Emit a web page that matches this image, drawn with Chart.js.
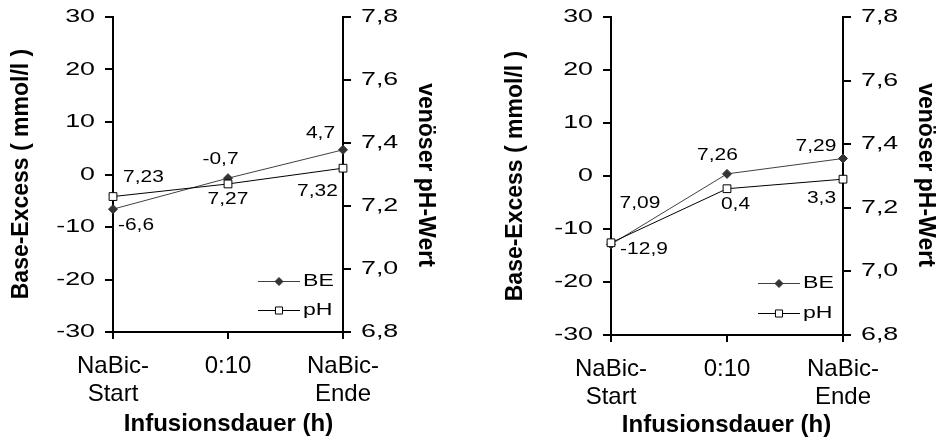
<!DOCTYPE html>
<html>
<head>
<meta charset="utf-8">
<script src="https://cdn.jsdelivr.net/npm/chart.js@4.4.1/dist/chart.umd.min.js"></script>
<style>
  html, body { margin: 0; padding: 0; background: #fff; }
  #wrap { position: relative; width: 936px; height: 440px; overflow: hidden; }
  canvas { position: absolute; top: 0; }
</style>
</head>
<body>
<div id="wrap">
  <canvas id="chartA" width="468" height="440" style="left:0;width:468px;height:440px"></canvas>
  <canvas id="chartB" width="468" height="440" style="left:468px;width:468px;height:440px"></canvas>
</div>
<script>
// Measurement times along the infusion
const categories = [['NaBic-', 'Start'], '0:10', ['NaBic-', 'Ende']];

// Patient A
const beA = [-6.6, -0.7, 4.7];
const phA = [7.23, 7.27, 7.32];

// Patient B
const beB = [-12.9, 0.4, 3.3];
const phB = [7.09, 7.26, 7.29];

// Axis ticks
const beTicks = [-30, -20, -10, 0, 10, 20, 30];
const phTicks = [6.8, 7.0, 7.2, 7.4, 7.6, 7.8];

const FONT = '"Liberation Sans", Arial, sans-serif';
const fmt = v => String(v).replace('.', ',');
const fmtPh = v => v.toFixed(1).replace('.', ',');

// Horizontally stretched text (the numeric labels use a wide face)
function wideText(ctx, text, x, y, sx, align) {
  ctx.save();
  ctx.translate(x, y);
  ctx.scale(sx, 1);
  ctx.textAlign = align;
  ctx.textBaseline = 'middle';
  ctx.fillText(text, 0, 0);
  ctx.restore();
}

// Each scale gets its own option objects
function gridOpts(len) {
  return { display: true, drawOnChartArea: false, drawTicks: true, tickLength: len,
           color: '#000', lineWidth: 2, tickColor: '#000', tickWidth: 2 };
}
function borderOpts() { return { display: true, color: '#000', width: 2 }; }

function buildChart(id, be, ph, frame, layout) {
  const W = 468, H = 440;

  const decor = {
    id: 'decor',
    afterDraw(chart) {
      const ctx = chart.ctx;
      const area = chart.chartArea;
      const yBE = chart.scales.yBE, yPH = chart.scales.yPH;
      ctx.save();
      ctx.fillStyle = '#000';

      // tick labels of both value axes
      ctx.font = '18.5px ' + FONT;
      yBE.ticks.forEach((t, i) => {
        wideText(ctx, fmt(t.value), area.left - 18, yBE.getPixelForTick(i), 1.45, 'right');
      });
      yPH.ticks.forEach((t, i) => {
        wideText(ctx, fmtPh(t.value), area.right + 18, yPH.getPixelForTick(i), 1.45, 'left');
      });

      // value labels next to the points
      ctx.font = '16.5px ' + FONT;
      chart.data.datasets.forEach((ds, di) => {
        const meta = chart.getDatasetMeta(di);
        const offs = layout.labels[ds.label];
        meta.data.forEach((pt, i) => {
          wideText(ctx, fmt(ds.data[i]), pt.x + offs[i][0], pt.y + offs[i][1], 1.27, 'center');
        });
      });

      // legend inside the plot, lower right
      chart.data.datasets.forEach((ds, di) => {
        const y = Math.round(area.bottom + layout.legendY[di]);
        const x0 = Math.round(area.right - 85), x1 = Math.round(area.right - 43);
        const xm = Math.round((x0 + x1) / 2);
        ctx.fillStyle = ds.borderColor;
        ctx.fillRect(x0, y, x1 - x0, 1);
        ctx.fillStyle = ds.pointBackgroundColor;
        ctx.strokeStyle = ds.pointBorderColor;
        ctx.lineWidth = ds.pointBorderWidth;
        Chart.helpers.drawPoint(ctx, {
          pointStyle: ds.pointStyle, radius: ds.pointRadius - 0.5, rotation: 0,
          borderWidth: ds.pointBorderWidth
        }, xm, y + 0.5);
        ctx.fillStyle = '#000';
        ctx.font = '16.5px ' + FONT;
        wideText(ctx, ds.label, area.right - 40, y, 1.4, 'left');
      });

      // axis titles
      ctx.fillStyle = '#000';
      ctx.font = 'bold 23px ' + FONT;
      ctx.textAlign = 'center';
      ctx.textBaseline = 'middle';
      ctx.save();
      ctx.translate(layout.leftTitle[0], layout.leftTitle[1]);
      ctx.rotate(-Math.PI / 2);
      ctx.fillText('Base-Excess ( mmol/l )', 0, 0);
      ctx.restore();
      ctx.save();
      ctx.translate(layout.rightTitle[0], layout.rightTitle[1]);
      ctx.rotate(Math.PI / 2);
      ctx.fillText('venöser pH-Wert', 0, 0);
      ctx.restore();
      ctx.font = 'bold 24px ' + FONT;
      ctx.fillText('Infusionsdauer (h)', layout.xTitle[0], layout.xTitle[1]);

      ctx.restore();
    }
  };

  return new Chart(document.getElementById(id), {
    type: 'line',
    data: {
      labels: categories,
      datasets: [
        {
          label: 'BE', data: be, yAxisID: 'yBE', order: 1,
          borderColor: '#404040', borderWidth: 1, tension: 0,
          pointStyle: 'rectRot', pointRadius: 4.5,
          pointBackgroundColor: '#333', pointBorderColor: '#333', pointBorderWidth: 1
        },
        {
          label: 'pH', data: ph, yAxisID: 'yPH', order: 0,
          borderColor: '#000', borderWidth: 1, tension: 0,
          pointStyle: 'rect', pointRadius: 5.5,
          pointBackgroundColor: '#fff', pointBorderColor: '#000', pointBorderWidth: 1
        }
      ]
    },
    options: {
      responsive: false,
      animation: false,
      devicePixelRatio: 1,
      layout: { padding: { top: frame.top, left: 0, right: 0, bottom: 0 } },
      plugins: { legend: { display: false }, tooltip: { enabled: false } },
      scales: {
        x: {
          type: 'category', offset: false,
          grid: gridOpts(7), border: borderOpts(),
          ticks: {
            color: '#000', padding: 13, maxRotation: 0, autoSkip: false,
            font: { family: FONT, size: 24, lineHeight: 1.17 }
          },
          afterFit: s => { s.height = H - frame.bottom; }
        },
        yBE: {
          type: 'linear', position: 'left', min: -30, max: 30,
          grid: gridOpts(8), border: borderOpts(),
          ticks: { display: false },
          afterBuildTicks: s => { s.ticks = beTicks.map(v => ({ value: v })); },
          afterFit: s => { s.width = frame.left; }
        },
        yPH: {
          type: 'linear', position: 'right', min: 6.8, max: 7.8,
          grid: gridOpts(8), border: borderOpts(),
          ticks: { display: false },
          afterBuildTicks: s => { s.ticks = phTicks.map(v => ({ value: v })); },
          afterFit: s => { s.width = W - frame.right; }
        }
      }
    },
    plugins: [decor]
  });
}

buildChart('chartA', beA, phA,
  { left: 113, right: 343, top: 17, bottom: 332 },
  {
    labels: {
      BE: [[23, 16], [-7.5, -19], [-22.5, -16]],
      pH: [[30.5, -19.5], [0, 16], [-25.5, 23]]
    },
    legendY: [-51, -22],
    leftTitle: [22, 174], rightTitle: [425, 175], xTitle: [228.5, 424]
  });

buildChart('chartB', beB, phB,
  { left: 143, right: 375, top: 17, bottom: 335 },
  {
    labels: {
      BE: [[33, 5], [8.5, 31], [-21.5, 40]],
      pH: [[29, -39], [-9.5, -33], [-27, -33]]
    },
    legendY: [-52, -22],
    leftTitle: [48, 176], rightTitle: [457, 175], xTitle: [258.5, 425]
  });
</script>
</body>
</html>
